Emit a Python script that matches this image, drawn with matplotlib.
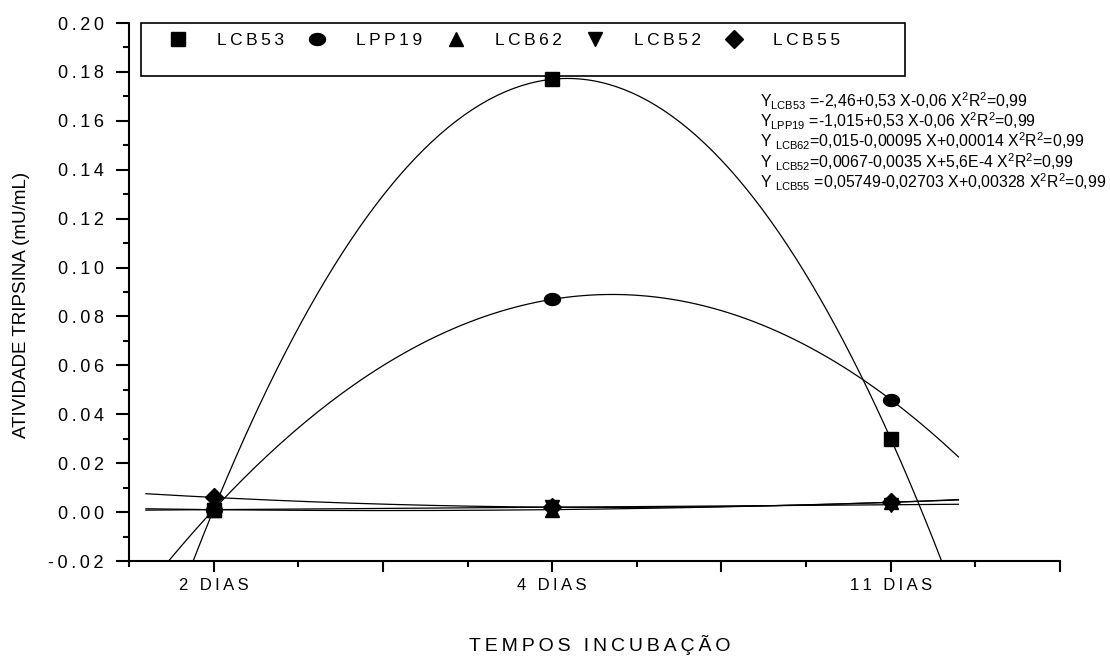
import numpy as np
import matplotlib
matplotlib.use('Agg')
import matplotlib.pyplot as plt
from matplotlib.patches import Rectangle
from matplotlib.path import Path
from matplotlib.ticker import MultipleLocator, FixedLocator

plt.rcParams['font.family'] = ['Liberation Sans', 'DejaVu Sans']
plt.rcParams['mathtext.fontset'] = 'custom'
plt.rcParams['mathtext.rm'] = 'Liberation Sans'
plt.rcParams['mathtext.it'] = 'Liberation Sans'

# === dados ===
tempos = ['2 DIAS', '4 DIAS', '11 DIAS']
x_pos = [1, 2, 3]
series = ['LCB53', 'LPP19', 'LCB62', 'LCB52', 'LCB55']
lcb53 = [0.001, 0.177, 0.030]
lpp19 = [0.001, 0.087, 0.046]
lcb62 = [0.001, 0.001, 0.004]
lcb52 = [0.001, 0.002, 0.003]
lcb55 = [0.006, 0.002, 0.004]
equacoes = [
    r'Y$_{\mathrm{LCB53}}$ =-2,46+0,53 X-0,06 X$^2$R$^2$=0,99',
    r'Y$_{\mathrm{LPP19}}$ =-1,015+0,53 X-0,06 X$^2$R$^2$=0,99',
    r'Y $_{\mathrm{LCB62}}$=0,015-0,00095 X+0,00014 X$^2$R$^2$=0,99',
    r'Y $_{\mathrm{LCB52}}$=0,0067-0,0035 X+5,6E-4 X$^2$R$^2$=0,99',
    r'Y $_{\mathrm{LCB55}}$ =0,05749-0,02703 X+0,00328 X$^2$R$^2$=0,99',
]

# circulo achatado como no Origin
t = np.linspace(0, 2 * np.pi, 41)
elipse = Path(np.column_stack([np.cos(t), 0.75 * np.sin(t)]), closed=True)

marcadores = {'LCB53': ('s', 10), 'LPP19': (elipse, 11.5), 'LCB62': ('^', 10.5),
              'LCB52': ('v', 10.5), 'LCB55': ('D', 8.7)}


def esp(s, sp='\u2009'):
    # espaçamento entre letras, estilo Origin (fora do modo matematico)
    partes = s.split('$')
    for i in range(0, len(partes), 2):
        partes[i] = sp.join(partes[i])
    return '$'.join(partes)


fig = plt.figure(figsize=(11.10, 6.56), dpi=100)
ax = fig.add_axes([129 / 1110, 1 - 561 / 656, 931 / 1110, 538 / 656])

xs = np.linspace(0.8, 3.2, 200)
handles = []
for nome, ys in zip(series, [lcb53, lpp19, lcb62, lcb52, lcb55]):
    coef = np.polyfit(x_pos, ys, 2)
    ax.plot(xs, np.polyval(coef, xs), color='black', lw=0.9)
    m, ms = marcadores[nome]
    h, = ax.plot(x_pos, ys, linestyle='none', marker=m, ms=ms, color='black')
    handles.append(h)

ax.set_xlim(0.75, 3.5)
ax.set_ylim(-0.02, 0.20)
ax.spines['top'].set_visible(False)
ax.spines['right'].set_visible(False)
ax.spines['left'].set_linewidth(1.5)
ax.spines['bottom'].set_linewidth(1.5)

ax.xaxis.set_major_locator(FixedLocator([1, 1.5, 2, 2.5, 3, 3.5]))
ax.xaxis.set_minor_locator(FixedLocator([0.75, 1.25, 1.75, 2.25, 2.75, 3.25]))
rot = {p: esp(t) for p, t in zip(x_pos, tempos)}
ax.set_xticklabels([rot.get(p, '') for p in [1, 1.5, 2, 2.5, 3, 3.5]], fontsize=12)
ax.tick_params(axis='x', which='major', length=8, width=1.5, pad=4)
ax.tick_params(axis='x', which='minor', length=4, width=1.5)

yt = np.arange(-0.02, 0.2001, 0.02)
ax.set_yticks(yt)
ax.yaxis.set_minor_locator(MultipleLocator(0.01))
ax.set_yticklabels([esp('%.2f' % v if abs(v) > 1e-9 else '0.00') for v in yt], fontsize=13)
ax.tick_params(axis='y', which='major', length=9.5, width=1.5, pad=8.5)
ax.tick_params(axis='y', which='minor', length=4.5, width=1.5)

fig.text(22 / 1110, 1 - 305 / 656, 'ATIVIDADE TRIPSINA (mU/mL)', rotation=90,
         ha='center', va='center', fontsize=13.5)
fig.text(600 / 1110, 1 - 645 / 656, esp('TEMPOS INCUBAÇÃO'),
         ha='center', va='center', fontsize=14)

# caixa da legenda
x0, x1 = (141 - 129) / 931, (905 - 129) / 931
y0 = 1 - (76 - 23) / 538
ax.add_patch(Rectangle((x0, y0), x1 - x0, 1 - y0, transform=ax.transAxes,
                       fill=False, lw=1.2, edgecolor='black', clip_on=False, zorder=5))
ax.legend(handles, [esp(s) for s in series], ncol=5, loc='center left',
          bbox_to_anchor=(0.043, 1 - (40 - 23) / 538), frameon=False, fontsize=12.5,
          handlelength=1.0, handletextpad=1.75, columnspacing=1.42,
          borderpad=0, borderaxespad=0)

for i, eq in enumerate(equacoes):
    fig.text(760 / 1110, 1 - (107 + 20.3 * i) / 656, eq, fontsize=11.4,
             ha='left', va='baseline')

fig.savefig('out.png', dpi=100)
